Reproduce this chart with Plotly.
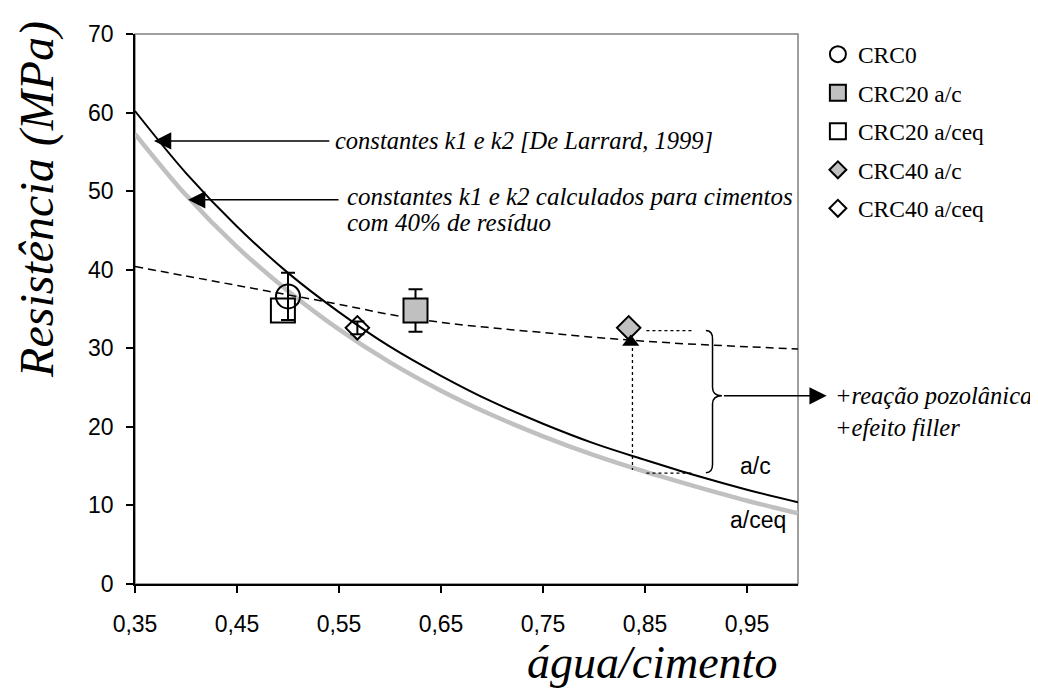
import plotly.graph_objects as go

# ---- data ----
agua_cimento = [0.35, 0.40, 0.45, 0.50, 0.55, 0.60, 0.65, 0.70, 0.75, 0.80, 0.85, 0.90, 0.95, 1.00]
curva_delarrard = [60.2, 52.3, 45.5, 39.6, 34.6, 30.2, 26.5, 23.2, 20.4, 17.9, 15.8, 13.8, 12.0, 10.4]
curva_40_residuo = [57.3, 49.5, 42.9, 37.3, 32.4, 28.2, 24.6, 21.5, 18.8, 16.4, 14.3, 12.4, 10.6, 9.0]
curva_tracejada = [40.4, 39.2, 38.0, 36.8, 35.6, 34.3, 33.3, 32.6, 32.0, 31.4, 30.9, 30.5, 30.2, 29.9]

crc0_x, crc0_y, crc0_err = [0.50], [36.6], [3.0]
crc20_ac_x, crc20_ac_y, crc20_ac_err = [0.625], [34.8], [2.7]
crc20_aceq_x, crc20_aceq_y = [0.495], [34.8]
crc40_ac_x, crc40_ac_y = [0.834], [32.6]
crc40_aceq_x, crc40_aceq_y, crc40_aceq_err = [0.568], [32.6], [0.8]
previsto_x, previsto_y = [0.836], [30.8]

x_ticks = [0.35, 0.45, 0.55, 0.65, 0.75, 0.85, 0.95]
y_ticks = [0, 10, 20, 30, 40, 50, 60, 70]

SERIF = "Liberation Serif, Times New Roman, serif"
SANS = "Liberation Sans, Arial, sans-serif"
GRAY = "#c0c0c0"

fig = go.Figure()

# curves
fig.add_trace(go.Scatter(x=agua_cimento, y=curva_40_residuo, mode="lines",
                         line=dict(color=GRAY, width=4.5, shape="spline"), showlegend=False, hoverinfo="skip"))
fig.add_trace(go.Scatter(x=agua_cimento, y=curva_delarrard, mode="lines",
                         line=dict(color="black", width=2, shape="spline"), showlegend=False, hoverinfo="skip"))
fig.add_trace(go.Scatter(x=agua_cimento, y=curva_tracejada, mode="lines",
                         line=dict(color="black", width=1.5, dash="8px,5px", shape="spline"), showlegend=False, hoverinfo="skip"))

err_style = dict(type="data", color="black", thickness=2, width=7)

# data points
fig.add_trace(go.Scatter(x=crc20_ac_x, y=crc20_ac_y, mode="markers", showlegend=False,
                         error_y=dict(array=crc20_ac_err, **err_style),
                         marker=dict(symbol="square", size=24, color=GRAY, line=dict(color="black", width=2))))
fig.add_trace(go.Scatter(x=crc20_aceq_x, y=crc20_aceq_y, mode="markers", showlegend=False,
                         marker=dict(symbol="square-open", size=24, color="black", line=dict(color="black", width=2))))
fig.add_trace(go.Scatter(x=crc0_x, y=crc0_y, mode="markers", showlegend=False,
                         error_y=dict(array=crc0_err, **err_style),
                         marker=dict(symbol="circle-open", size=24, color="black", line=dict(color="black", width=2))))
fig.add_trace(go.Scatter(x=crc40_aceq_x, y=crc40_aceq_y, mode="markers", showlegend=False,
                         error_y=dict(array=crc40_aceq_err, **err_style),
                         marker=dict(symbol="diamond-open", size=18, color="black", line=dict(color="black", width=2))))
fig.add_trace(go.Scatter(x=crc40_ac_x, y=crc40_ac_y, mode="markers", showlegend=False,
                         marker=dict(symbol="diamond", size=18, color=GRAY, line=dict(color="black", width=2))))
fig.add_trace(go.Scatter(x=previsto_x, y=previsto_y, mode="markers", showlegend=False,
                         marker=dict(symbol="triangle-up", size=15, color="black")))

# legend-only entries
legend_items = [
    ("CRC0", "circle-open", 16, "black"),
    ("CRC20 a/c", "square", 16, GRAY),
    ("CRC20 a/ceq", "square-open", 16, "black"),
    ("CRC40 a/c", "diamond", 13, GRAY),
    ("CRC40 a/ceq", "diamond", 13, "white"),
]
for i, (name, sym, size, col) in enumerate(legend_items):
    fig.add_trace(go.Scatter(x=[None], y=[None], mode="markers", name=name, legendgroup=f"g{i}",
                             marker=dict(symbol=sym, size=size, color=col, line=dict(color="black", width=2))))

# shapes: frame, dotted guides, brace
shapes = [
    dict(type="rect", xref="paper", yref="paper", x0=0, x1=1, y0=0, y1=1,
         line=dict(color="#808080", width=1.5), layer="below"),
    dict(type="line", xref="x", yref="y", x0=0.8377, x1=0.8377, y0=30.8, y1=14.5,
         line=dict(color="black", width=1.3, dash="dot")),
    dict(type="line", xref="x", yref="y", x0=0.8514, x1=0.8971, y0=32.26, y1=32.26,
         line=dict(color="black", width=1.3, dash="dot")),
    dict(type="line", xref="x", yref="y", x0=0.8514, x1=0.8971, y0=14.12, y1=14.12,
         line=dict(color="black", width=1.3, dash="dot")),
    dict(type="path", xref="x", yref="y",
         path="M 0.9097,32.26 Q 0.9162,32.26 0.9162,31.2 L 0.9162,25.0 Q 0.9162,23.95 0.9254,23.95 "
              "Q 0.9162,23.95 0.9162,22.9 L 0.9162,15.2 Q 0.9162,14.16 0.9097,14.16",
         line=dict(color="black", width=1.5)),
]

annotations = [
    # arrows
    dict(x=0.3686, y=56.39, ax=0.542, ay=56.39, xref="x", yref="y", axref="x", ayref="y", text="",
         showarrow=True, arrowhead=2, arrowsize=2.3, arrowwidth=1.5, arrowcolor="black", standoff=0),
    dict(x=0.402, y=48.9, ax=0.551, ay=48.9, xref="x", yref="y", axref="x", ayref="y", text="",
         showarrow=True, arrowhead=2, arrowsize=2.3, arrowwidth=1.5, arrowcolor="black", standoff=0),
    dict(x=1.0281, y=23.95, ax=0.9259, ay=23.95, xref="x", yref="y", axref="x", ayref="y", text="",
         showarrow=True, arrowhead=2, arrowsize=2.3, arrowwidth=1.5, arrowcolor="black", standoff=0),
    # texts
    dict(x=0.544, y=56.4, xref="x", yref="y", text="<i>constantes k1 e k2 [De Larrard, 1999]</i>",
         showarrow=False, xanchor="left", yanchor="middle", font=dict(family=SERIF, size=24.5, color="black")),
    dict(x=0.5558, y=49.27, xref="x", yref="y", text="<i>constantes k1 e k2 calculados para cimentos</i>",
         showarrow=False, xanchor="left", yanchor="middle", font=dict(family=SERIF, size=25, color="black")),
    dict(x=0.5558, y=45.96, xref="x", yref="y", text="<i>com 40% de resíduo</i>",
         showarrow=False, xanchor="left", yanchor="middle", font=dict(family=SERIF, size=25, color="black")),
    dict(x=1.0528, y=0.3421, xref="paper", yref="paper", text="<i>+reação pozolânica</i>",
         showarrow=False, xanchor="left", yanchor="middle", font=dict(family=SERIF, size=24.5, color="black")),
    dict(x=1.0528, y=0.284, xref="paper", yref="paper", text="<i>+efeito filler</i>",
         showarrow=False, xanchor="left", yanchor="middle", font=dict(family=SERIF, size=24.5, color="black")),
    dict(x=0.958, y=14.96, xref="x", yref="y", text="a/c",
         showarrow=False, xanchor="center", yanchor="middle", font=dict(family=SANS, size=23, color="black")),
    dict(x=0.9605, y=8.18, xref="x", yref="y", text="a/ceq",
         showarrow=False, xanchor="center", yanchor="middle", font=dict(family=SERIF if False else SANS, size=23, color="black")),
    # axis titles
    dict(x=0.78, y=-0.142, xref="paper", yref="paper", text="<i>água/cimento</i>",
         showarrow=False, xanchor="center", yanchor="middle", font=dict(family=SERIF, size=46, color="black")),
    dict(x=-0.148, y=0.70, xref="paper", yref="paper", text="<i>Resistência (MPa)</i>", textangle=-90,
         showarrow=False, xanchor="center", yanchor="middle", font=dict(family=SERIF, size=48, color="black")),
]

# page body has an 8px margin: figure is sized/offset to put the plot area where the reference has it
fig.update_layout(
    width=1030, height=681,
    margin=dict(l=127, r=240, t=26, b=105),
    paper_bgcolor="white", plot_bgcolor="white",
    separators=",.",
    shapes=shapes, annotations=annotations,
    showlegend=True,
    legend=dict(x=1.03, y=1.003, xanchor="left", yanchor="top", traceorder="grouped",
                tracegroupgap=5, itemwidth=30, bgcolor="rgba(0,0,0,0)",
                font=dict(family=SERIF, size=23.5, color="black")),
    xaxis=dict(range=[0.35, 1.0], tickvals=x_ticks, tickformat=".2f", showgrid=False, zeroline=False,
               showline=True, linecolor="black", linewidth=1.5, ticks="outside", ticklen=7, tickwidth=1.5,
               tickcolor="black", ticklabelstandoff=12,
               tickfont=dict(family=SANS, size=23, color="black")),
    yaxis=dict(range=[0, 70], tickvals=y_ticks, showgrid=False, zeroline=False,
               showline=True, linecolor="black", linewidth=1.5, ticks="outside", ticklen=7, tickwidth=1.5,
               tickcolor="black", ticklabelstandoff=8,
               tickfont=dict(family=SANS, size=23, color="black")),
)

fig.write_html("out.html")
